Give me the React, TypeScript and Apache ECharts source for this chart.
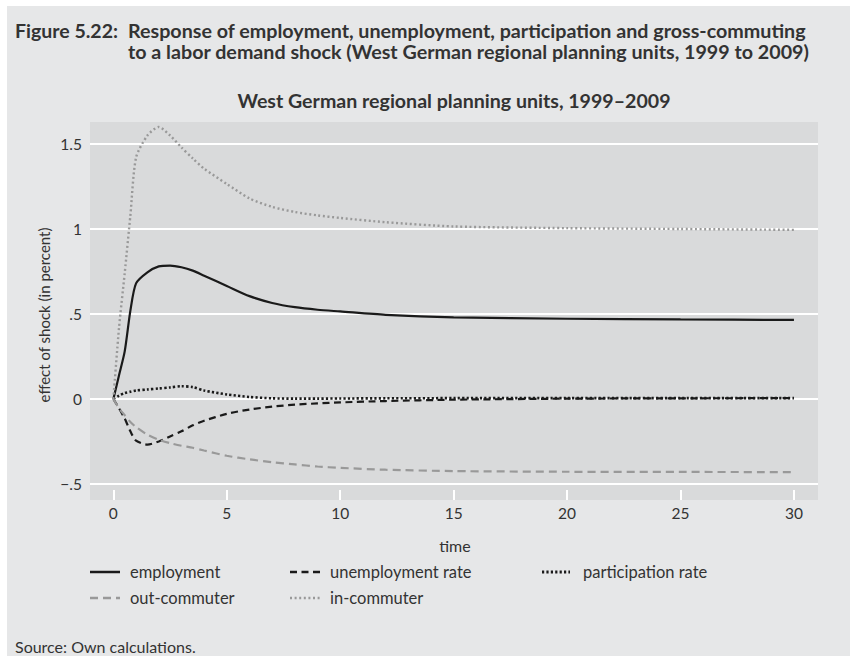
import React, { useEffect, useRef } from "react";
import * as echarts from "echarts";

// time grid (periods after the shock)
const time = [0, 0.25, 0.5, 0.75, 1, 1.5, 2, 2.5, 3, 3.5, 4, 5, 6, 7, 8, 9, 10, 12, 15, 20, 25, 30];

// responses (in percent)
const employment = [0, 0.14, 0.28, 0.52, 0.68, 0.745, 0.78, 0.785, 0.775, 0.755, 0.725, 0.665, 0.605, 0.565, 0.54, 0.525, 0.515, 0.495, 0.48, 0.472, 0.468, 0.465];
const unemploymentRate = [0, -0.055, -0.115, -0.19, -0.245, -0.268, -0.25, -0.22, -0.19, -0.155, -0.128, -0.087, -0.062, -0.045, -0.033, -0.026, -0.02, -0.012, -0.004, 0.002, 0.004, 0.005];
const participationRate = [0, 0.02, 0.035, 0.043, 0.05, 0.056, 0.062, 0.068, 0.075, 0.07, 0.05, 0.027, 0.012, 0.004, 0.002, 0.002, 0.003, 0.004, 0.005, 0.005, 0.005, 0.005];
const outCommuter = [0, -0.055, -0.095, -0.135, -0.165, -0.21, -0.24, -0.26, -0.275, -0.287, -0.303, -0.334, -0.355, -0.372, -0.385, -0.397, -0.405, -0.416, -0.424, -0.428, -0.429, -0.43];
const inCommuter = [0, 0.42, 0.74, 1.08, 1.42, 1.55, 1.6, 1.55, 1.48, 1.415, 1.355, 1.265, 1.18, 1.13, 1.1, 1.08, 1.065, 1.04, 1.015, 1.005, 1.0, 0.995];

// axis ticks
const xTicks = [0, 5, 10, 15, 20, 25, 30];
const yTicks = [-0.5, 0, 0.5, 1, 1.5];
const yTickLabels = ["\u2212.5", "0", ".5", "1", "1.5"];

// texts
const figureLabel = "Figure 5.22:";
const titleLine1 = "Response of employment, unemployment, participation and gross-commuting";
const titleLine2 = "to a labor demand shock (West German regional planning units, 1999 to 2009)";
const subtitle = "West German regional planning units, 1999\u20132009";
const yTitle = "effect of shock (in percent)";
const xTitle = "time";
const source = "Source: Own calculations.";

const FONT = "Lato, 'Liberation Sans', sans-serif";
const TEXT = "#333333";
const BLACK = "#1a1a1a";
const GRAY = "#999999";

type Def = { name: string; values: number[]; color: string; width: number; dash: number[] | "solid" };

const defs: Def[] = [
  { name: "employment", values: employment, color: BLACK, width: 2.2, dash: "solid" },
  { name: "unemployment rate", values: unemploymentRate, color: BLACK, width: 2.2, dash: [7, 4.5] },
  { name: "participation rate", values: participationRate, color: BLACK, width: 2.6, dash: [2.2, 2.2] },
  { name: "out-commuter", values: outCommuter, color: GRAY, width: 2.2, dash: [8, 5] },
  { name: "in-commuter", values: inCommuter, color: GRAY, width: 2.4, dash: [2, 2.6] },
];

// legend layout: [x of sample, y]
const legendPos: [number, number][] = [
  [90, 572],
  [290, 572],
  [542, 572],
  [90, 598],
  [290, 598],
];

export default function App() {
  const ref = useRef<HTMLDivElement>(null);

  useEffect(() => {
    if (!ref.current) return;
    const chart = echarts.init(ref.current, null, { renderer: "svg" });

    const series: any[] = defs.map((d, i) => ({
      name: d.name,
      type: "line",
      data: time.map((t, k) => [t, d.values[k]]),
      showSymbol: false,
      symbol: "none",
      smooth: 0.25,
      z: 3,
      lineStyle: { color: d.color, width: d.width, type: d.dash, cap: "butt" },
      ...(i === 0
        ? {
            markLine: {
              silent: true,
              z: 1,
              symbol: ["none", "none"],
              label: { show: false },
              lineStyle: { color: "#ffffff", width: 2, type: "solid" },
              data: yTicks.map((v) => ({ yAxis: v })),
            },
          }
        : {}),
    }));

    const legendGraphics: any[] = [];
    defs.forEach((d, i) => {
      const [lx, ly] = legendPos[i];
      const w = i === 2 ? 28 : 30;
      legendGraphics.push({
        type: "line",
        shape: { x1: lx, y1: ly, x2: lx + w, y2: ly },
        style: {
          stroke: d.color,
          lineWidth: d.width + 0.3,
          lineDash: d.dash === "solid" ? null : d.dash,
        },
      });
      legendGraphics.push({
        type: "text",
        x: lx + w + (i === 2 ? 13 : 10),
        y: ly,
        style: { text: d.name, font: `16.5px ${FONT}`, fill: TEXT, align: "left", verticalAlign: "middle" },
      });
    });

    const option: any = {
      animation: false,
      grid: {
        left: 90,
        right: 32,
        top: 122,
        bottom: 156,
        show: true,
        backgroundColor: "#d9dadb",
        borderWidth: 0,
        containLabel: false,
      },
      xAxis: {
        type: "value",
        min: -1.03,
        max: 31.06,
        axisLine: { show: false, onZero: false },
        splitLine: { show: false },
        axisTick: {
          show: true,
          inside: true,
          length: 10,
          customValues: xTicks,
          lineStyle: { color: "#ffffff", width: 2 },
        },
        axisLabel: {
          customValues: xTicks,
          color: TEXT,
          fontSize: 15.5,
          fontFamily: FONT,
          margin: 5,
        },
      },
      yAxis: {
        type: "value",
        min: -0.5941,
        max: 1.6294,
        axisLine: { show: false, onZero: false },
        axisTick: { show: false },
        splitLine: { show: false },
        axisLabel: {
          customValues: yTicks,
          color: TEXT,
          fontSize: 15.5,
          fontFamily: FONT,
          margin: 8,
          formatter: (v: number) => {
            const idx = yTicks.findIndex((t) => Math.abs(t - v) < 1e-9);
            return idx >= 0 ? yTickLabels[idx] : "";
          },
        },
      },
      series,
      graphic: [
        {
          type: "text",
          x: 15,
          y: 30,
          style: { text: figureLabel, font: `bold 19.5px ${FONT}`, fill: TEXT, align: "left", verticalAlign: "middle" },
        },
        {
          type: "text",
          x: 128,
          y: 19.5,
          style: {
            text: titleLine1 + "\n" + titleLine2,
            font: `bold 19.7px ${FONT}`,
            lineHeight: 21,
            fill: TEXT,
            align: "left",
            verticalAlign: "top",
          },
        },
        {
          type: "text",
          x: 454,
          y: 100,
          style: { text: subtitle, font: `bold 19.6px ${FONT}`, fill: TEXT, align: "center", verticalAlign: "middle" },
        },
        {
          type: "text",
          x: 44,
          y: 315,
          rotation: Math.PI / 2,
          style: { text: yTitle, font: `15px ${FONT}`, fill: TEXT, align: "center", verticalAlign: "middle" },
        },
        {
          type: "text",
          x: 455,
          y: 545,
          style: { text: xTitle, font: `16px ${FONT}`, fill: TEXT, align: "center", verticalAlign: "middle" },
        },
        {
          type: "text",
          x: 15,
          y: 646,
          style: { text: source, font: `16px ${FONT}`, fill: TEXT, align: "left", verticalAlign: "middle" },
        },
        ...legendGraphics,
      ],
    };

    chart.setOption(option);
    return () => chart.dispose();
  }, []);

  return (
    <div style={{ position: "fixed", left: 0, top: 0, width: 850, height: 656, background: "#ffffff" }}>
      <div style={{ position: "absolute", left: 7, top: 6, width: 843, height: 650, background: "#e6e7e8" }} />
      <div ref={ref} style={{ position: "absolute", left: 0, top: 0, width: 850, height: 656 }} />
    </div>
  );
}
